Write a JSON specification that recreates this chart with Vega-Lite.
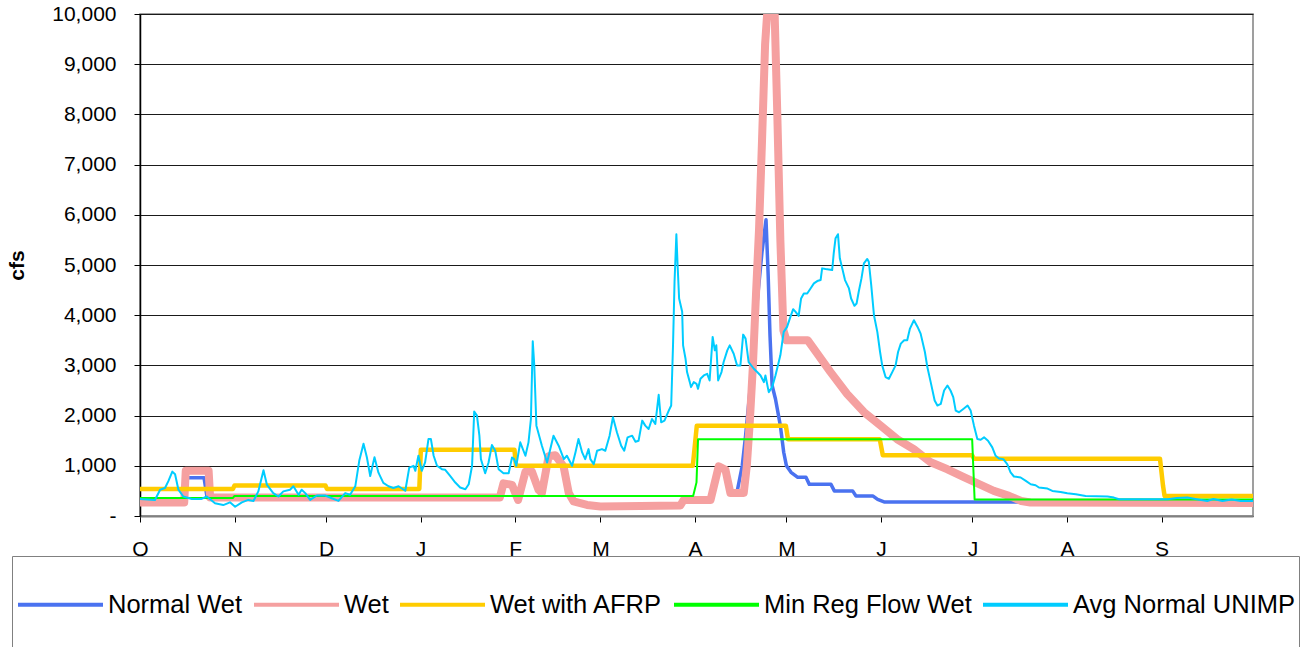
{
  "$schema": "https://vega.github.io/schema/vega-lite/v6.json",
  "width": 1113,
  "height": 502,
  "autosize": "none",
  "padding": {"left": 140, "top": 14, "right": 47, "bottom": 131},
  "background": "white",
  "config": {
    "font": "Liberation Sans",
    "view": {"stroke": "#808080", "strokeWidth": 1.5},
    "line": {"strokeJoin": "round", "strokeCap": "butt"}
  },
  "datasets": {
    "normalWet": [
      {"day":0,"cfs":270},{"day":14.5,"cfs":270},{"day":15,"cfs":760},{"day":21,"cfs":760},{"day":22,"cfs":370},{"day":118,"cfs":370},{"day":119.2,"cfs":650},{"day":122,"cfs":620},{"day":124,"cfs":320},{"day":126.4,"cfs":880},{"day":128.5,"cfs":890},{"day":130.7,"cfs":520},{"day":131.8,"cfs":460},{"day":134,"cfs":1190},{"day":136.2,"cfs":1210},{"day":138.9,"cfs":990},{"day":140.6,"cfs":460},{"day":142.2,"cfs":290},{"day":146.6,"cfs":220},{"day":151,"cfs":190},{"day":177.2,"cfs":210},{"day":178.3,"cfs":320},{"day":187.1,"cfs":320},{"day":189.8,"cfs":990},{"day":192,"cfs":920},{"day":193.6,"cfs":460},{"day":195.8,"cfs":480},{"day":197.5,"cfs":1000},{"day":198.6,"cfs":1600},{"day":200.2,"cfs":2600},{"day":201.3,"cfs":3400},{"day":202.4,"cfs":4270},{"day":204,"cfs":5270},{"day":205.3,"cfs":5900},{"day":206,"cfs":4800},{"day":206.6,"cfs":3600},{"day":207.3,"cfs":2600},{"day":208.4,"cfs":2330},{"day":210,"cfs":1800},{"day":211.1,"cfs":1270},{"day":212,"cfs":1000},{"day":213.5,"cfs":870},{"day":215.7,"cfs":770},{"day":218.4,"cfs":770},{"day":219.5,"cfs":630},{"day":226.6,"cfs":630},{"day":227.7,"cfs":500},{"day":233.7,"cfs":500},{"day":234.8,"cfs":400},{"day":240.3,"cfs":400},{"day":241.9,"cfs":330},{"day":244,"cfs":280},{"day":365,"cfs":280}
    ],
    "wet": [
      {"day":0,"cfs":270},{"day":14.5,"cfs":270},{"day":15,"cfs":900},{"day":22.5,"cfs":900},{"day":23,"cfs":370},{"day":118,"cfs":370},{"day":119.2,"cfs":650},{"day":122,"cfs":620},{"day":124,"cfs":320},{"day":126.4,"cfs":880},{"day":128.5,"cfs":890},{"day":130.7,"cfs":520},{"day":131.8,"cfs":460},{"day":134,"cfs":1190},{"day":136.2,"cfs":1210},{"day":138.9,"cfs":990},{"day":140.6,"cfs":460},{"day":142.2,"cfs":290},{"day":146.6,"cfs":220},{"day":151,"cfs":190},{"day":177.2,"cfs":210},{"day":178.3,"cfs":320},{"day":187.1,"cfs":320},{"day":189.8,"cfs":990},{"day":192,"cfs":920},{"day":193.6,"cfs":460},{"day":198,"cfs":460},{"day":199,"cfs":1000},{"day":200,"cfs":1900},{"day":201,"cfs":3000},{"day":202,"cfs":4400},{"day":203,"cfs":5700},{"day":204,"cfs":7500},{"day":205,"cfs":9400},{"day":206,"cfs":10300},{"day":208,"cfs":10300},{"day":209,"cfs":8000},{"day":210,"cfs":5500},{"day":211,"cfs":3700},{"day":212,"cfs":3500},{"day":219,"cfs":3500},{"day":221,"cfs":3330},{"day":226.4,"cfs":2870},{"day":231.9,"cfs":2430},{"day":237.4,"cfs":2070},{"day":242.9,"cfs":1800},{"day":248.3,"cfs":1530},{"day":253.8,"cfs":1330},{"day":259.3,"cfs":1070},{"day":264.8,"cfs":930},{"day":270,"cfs":780},{"day":275,"cfs":640},{"day":280,"cfs":500},{"day":285,"cfs":400},{"day":289,"cfs":300},{"day":292,"cfs":270},{"day":365,"cfs":260}
    ],
    "afrp": [
      {"day":0,"cfs":540},{"day":30.5,"cfs":540},{"day":31,"cfs":610},{"day":60.8,"cfs":610},{"day":61.3,"cfs":540},{"day":91.6,"cfs":540},{"day":92.1,"cfs":1320},{"day":122.8,"cfs":1320},{"day":123.3,"cfs":1000},{"day":181.3,"cfs":1000},{"day":182.6,"cfs":1800},{"day":211.8,"cfs":1800},{"day":212.5,"cfs":1530},{"day":242.6,"cfs":1530},{"day":243.6,"cfs":1210},{"day":272.9,"cfs":1210},{"day":273.5,"cfs":1140},{"day":334.5,"cfs":1140},{"day":335.5,"cfs":600},{"day":336,"cfs":400},{"day":365,"cfs":400}
    ],
    "minReg": [
      {"day":0,"cfs":360},{"day":30.5,"cfs":360},{"day":31,"cfs":400},{"day":181.4,"cfs":400},{"day":182.5,"cfs":670},{"day":183,"cfs":1530},{"day":272.9,"cfs":1530},{"day":273.7,"cfs":330},{"day":365,"cfs":330}
    ],
    "unimp": [
      {"day":0,"cfs":340},{"day":4.9,"cfs":320},{"day":6.6,"cfs":524},{"day":8.2,"cfs":558},{"day":9.3,"cfs":694},{"day":10.6,"cfs":884},{"day":11.5,"cfs":830},{"day":12.6,"cfs":524},{"day":14.2,"cfs":388},{"day":17,"cfs":340},{"day":20.2,"cfs":340},{"day":21.9,"cfs":388},{"day":24.6,"cfs":252},{"day":27.3,"cfs":218},{"day":29.5,"cfs":272},{"day":31.2,"cfs":184},{"day":33.4,"cfs":272},{"day":35.5,"cfs":320},{"day":37.2,"cfs":300},{"day":38.8,"cfs":490},{"day":40.5,"cfs":911},{"day":41.6,"cfs":626},{"day":43.7,"cfs":456},{"day":45.4,"cfs":388},{"day":47,"cfs":490},{"day":49.2,"cfs":524},{"day":50.3,"cfs":592},{"day":52,"cfs":422},{"day":53,"cfs":524},{"day":54.2,"cfs":456},{"day":55.8,"cfs":320},{"day":58,"cfs":408},{"day":60.7,"cfs":408},{"day":62.9,"cfs":354},{"day":65.1,"cfs":300},{"day":67.3,"cfs":456},{"day":68.9,"cfs":422},{"day":70.6,"cfs":592},{"day":71.9,"cfs":1100},{"day":73.3,"cfs":1440},{"day":74.4,"cfs":1170},{"day":75.5,"cfs":796},{"day":76.9,"cfs":1170},{"day":78.2,"cfs":864},{"day":79.8,"cfs":660},{"day":81.5,"cfs":592},{"day":83.1,"cfs":558},{"day":84.8,"cfs":592},{"day":87,"cfs":503},{"day":88.3,"cfs":965},{"day":89.7,"cfs":1000},{"day":90.3,"cfs":900},{"day":91.3,"cfs":1200},{"day":92.4,"cfs":900},{"day":93.5,"cfs":1067},{"day":94.6,"cfs":1533},{"day":95.4,"cfs":1533},{"day":96.3,"cfs":1200},{"day":97.4,"cfs":1000},{"day":99,"cfs":933},{"day":100.1,"cfs":920},{"day":101.7,"cfs":800},{"day":103.4,"cfs":667},{"day":105,"cfs":567},{"day":106.7,"cfs":533},{"day":107.8,"cfs":633},{"day":108.9,"cfs":1000},{"day":109.6,"cfs":2080},{"day":110.5,"cfs":2000},{"day":111.3,"cfs":1600},{"day":111.8,"cfs":1133},{"day":113.2,"cfs":853},{"day":114.3,"cfs":1067},{"day":115.4,"cfs":1413},{"day":116.5,"cfs":1300},{"day":117.6,"cfs":933},{"day":119.2,"cfs":853},{"day":120.9,"cfs":853},{"day":122,"cfs":1167},{"day":122.7,"cfs":1133},{"day":123.4,"cfs":1000},{"day":124.7,"cfs":1467},{"day":126.4,"cfs":1200},{"day":127.4,"cfs":1467},{"day":128.2,"cfs":1933},{"day":128.8,"cfs":3480},{"day":129.3,"cfs":3000},{"day":130,"cfs":1800},{"day":131.8,"cfs":1400},{"day":133.5,"cfs":1067},{"day":135.6,"cfs":1600},{"day":137.3,"cfs":1400},{"day":139,"cfs":1133},{"day":140,"cfs":1200},{"day":141.7,"cfs":1000},{"day":142.8,"cfs":1267},{"day":143.8,"cfs":1533},{"day":145,"cfs":1267},{"day":146,"cfs":1133},{"day":147.1,"cfs":1333},{"day":147.7,"cfs":1133},{"day":148.8,"cfs":1033},{"day":149.9,"cfs":1300},{"day":151.5,"cfs":1333},{"day":152.6,"cfs":1300},{"day":154,"cfs":1600},{"day":155.1,"cfs":1967},{"day":156.4,"cfs":1667},{"day":157.8,"cfs":1400},{"day":158.8,"cfs":1300},{"day":159.9,"cfs":1567},{"day":161.4,"cfs":1600},{"day":162.5,"cfs":1480},{"day":163.5,"cfs":1500},{"day":164.7,"cfs":1900},{"day":165.7,"cfs":1800},{"day":166.8,"cfs":1733},{"day":167.9,"cfs":1933},{"day":169,"cfs":1833},{"day":170.1,"cfs":2413},{"day":170.9,"cfs":1867},{"day":172,"cfs":1900},{"day":173.4,"cfs":2100},{"day":174.2,"cfs":2200},{"day":174.8,"cfs":3400},{"day":175.3,"cfs":4667},{"day":175.9,"cfs":5613},{"day":176.3,"cfs":5000},{"day":176.8,"cfs":4333},{"day":177.8,"cfs":4067},{"day":178.1,"cfs":3400},{"day":178.9,"cfs":3133},{"day":179.4,"cfs":2867},{"day":180.3,"cfs":2667},{"day":180.7,"cfs":2567},{"day":181.6,"cfs":2667},{"day":182.5,"cfs":2633},{"day":183,"cfs":2533},{"day":183.8,"cfs":2733},{"day":184.9,"cfs":2800},{"day":186,"cfs":2833},{"day":186.8,"cfs":2700},{"day":187.3,"cfs":3133},{"day":187.8,"cfs":3567},{"day":188.5,"cfs":3300},{"day":189,"cfs":3400},{"day":189.6,"cfs":2700},{"day":190.7,"cfs":2867},{"day":191.4,"cfs":3067},{"day":192.6,"cfs":3300},{"day":193.4,"cfs":3400},{"day":194.7,"cfs":3233},{"day":195.8,"cfs":3000},{"day":196.9,"cfs":3000},{"day":197.8,"cfs":3613},{"day":198.6,"cfs":3533},{"day":199.6,"cfs":3067},{"day":201.3,"cfs":2933},{"day":202.4,"cfs":2867},{"day":203.5,"cfs":2800},{"day":204.6,"cfs":2667},{"day":205.1,"cfs":2800},{"day":206.2,"cfs":2467},{"day":207.3,"cfs":2567},{"day":208.4,"cfs":2800},{"day":210,"cfs":3200},{"day":211.1,"cfs":3667},{"day":212.2,"cfs":3767},{"day":213.1,"cfs":3933},{"day":214.2,"cfs":4120},{"day":215,"cfs":4067},{"day":216,"cfs":3987},{"day":216.8,"cfs":4333},{"day":217.7,"cfs":4433},{"day":218.8,"cfs":4433},{"day":219.9,"cfs":4533},{"day":221,"cfs":4633},{"day":222.1,"cfs":4680},{"day":223.2,"cfs":4700},{"day":223.7,"cfs":4933},{"day":224.8,"cfs":4920},{"day":227,"cfs":4900},{"day":227.5,"cfs":5233},{"day":228.1,"cfs":5533},{"day":228.9,"cfs":5613},{"day":229.5,"cfs":5133},{"day":230.3,"cfs":4933},{"day":231.2,"cfs":4700},{"day":232.5,"cfs":4533},{"day":233.2,"cfs":4333},{"day":234.3,"cfs":4187},{"day":235,"cfs":4233},{"day":235.7,"cfs":4467},{"day":236.6,"cfs":4733},{"day":237.4,"cfs":5033},{"day":238.5,"cfs":5120},{"day":239,"cfs":5067},{"day":239.8,"cfs":4600},{"day":240.7,"cfs":4000},{"day":241.8,"cfs":3667},{"day":242.7,"cfs":3267},{"day":243.4,"cfs":3000},{"day":244.5,"cfs":2767},{"day":245.6,"cfs":2733},{"day":246.7,"cfs":2867},{"day":247.8,"cfs":3000},{"day":248.6,"cfs":3267},{"day":249.5,"cfs":3433},{"day":250.6,"cfs":3500},{"day":251.6,"cfs":3500},{"day":252.5,"cfs":3733},{"day":253.8,"cfs":3900},{"day":255,"cfs":3767},{"day":256,"cfs":3633},{"day":257.4,"cfs":3267},{"day":258.2,"cfs":2967},{"day":259.3,"cfs":2667},{"day":260.6,"cfs":2300},{"day":261.5,"cfs":2200},{"day":262.6,"cfs":2233},{"day":263.7,"cfs":2500},{"day":264.8,"cfs":2600},{"day":265.8,"cfs":2500},{"day":266.7,"cfs":2367},{"day":267.5,"cfs":2100},{"day":268.6,"cfs":2067},{"day":270,"cfs":2133},{"day":271.4,"cfs":2200},{"day":272.4,"cfs":2100},{"day":273.5,"cfs":1800},{"day":274.6,"cfs":1533},{"day":275.7,"cfs":1520},{"day":276.8,"cfs":1567},{"day":278.1,"cfs":1500},{"day":279.5,"cfs":1367},{"day":280.6,"cfs":1200},{"day":281.7,"cfs":1147},{"day":283.1,"cfs":1133},{"day":284.4,"cfs":1033},{"day":285.5,"cfs":867},{"day":286.6,"cfs":787},{"day":288.8,"cfs":767},{"day":290.5,"cfs":700},{"day":292.1,"cfs":633},{"day":293.7,"cfs":613},{"day":294.8,"cfs":567},{"day":297.6,"cfs":547},{"day":299.2,"cfs":500},{"day":301.9,"cfs":480},{"day":304.1,"cfs":453},{"day":306.9,"cfs":433},{"day":310.1,"cfs":400},{"day":317.3,"cfs":387},{"day":319.4,"cfs":367},{"day":321.1,"cfs":333},{"day":337,"cfs":333},{"day":340,"cfs":360},{"day":343.5,"cfs":367},{"day":347,"cfs":330},{"day":350,"cfs":300},{"day":352,"cfs":340},{"day":355,"cfs":300},{"day":358,"cfs":330},{"day":361,"cfs":300},{"day":365,"cfs":300}
    ]
  },
  "encoding": {
    "x": {
      "field": "day",
      "type": "quantitative",
      "scale": {"domain": [0, 365], "nice": false, "zero": false},
      "axis": {
        "title": null,
        "grid": false,
        "values": [0, 31, 61, 92, 123, 151, 182, 212, 243, 273, 304, 335],
        "labelExpr": "['O','N','D','J','F','M','A','M','J','J','A','S'][indexof([0,31,61,92,123,151,182,212,243,273,304,335], datum.value)]",
        "labelFontSize": 21,
        "labelColor": "#000000",
        "labelPadding": 16,
        "labelFlush": false,
        "labelOverlap": false,
        "tickSize": 6,
        "tickColor": "#000000",
        "domainColor": "#808080",
        "domainWidth": 2
      }
    },
    "y": {
      "field": "cfs",
      "type": "quantitative",
      "scale": {"domain": [0, 10000], "nice": false},
      "axis": {
        "title": "cfs",
        "titleFontSize": 21,
        "titleFontWeight": "bold",
        "titleColor": "#000000",
        "titlePadding": 24,
        "values": [0, 1000, 2000, 3000, 4000, 5000, 6000, 7000, 8000, 9000, 10000],
        "labelExpr": "datum.value === 0 ? '-\u00a0\u00a0\u00a0\u00a0' : format(datum.value, ',')",
        "labelFontSize": 21,
        "labelColor": "#000000",
        "labelPadding": 18,
        "labelFlush": false,
        "labelOverlap": false,
        "tickSize": 6,
        "tickColor": "#000000",
        "domainColor": "#000000",
        "domainWidth": 1.5,
        "grid": true,
        "gridColor": "#1a1a1a",
        "gridWidth": 1
      }
    }
  },
  "layer": [
    {
      "data": {"name": "normalWet"},
      "mark": {"type": "line", "strokeWidth": 3.5, "clip": true},
      "encoding": {"color": {"datum": "Normal Wet", "type": "nominal"}}
    },
    {
      "data": {"name": "wet"},
      "mark": {"type": "line", "strokeWidth": 8, "clip": true},
      "encoding": {"color": {"datum": "Wet", "type": "nominal"}}
    },
    {
      "data": {"name": "afrp"},
      "mark": {"type": "line", "strokeWidth": 4.5, "clip": true},
      "encoding": {"color": {"datum": "Wet with AFRP", "type": "nominal"}}
    },
    {
      "data": {"name": "minReg"},
      "mark": {"type": "line", "strokeWidth": 2, "clip": true},
      "encoding": {"color": {"datum": "Min Reg Flow Wet", "type": "nominal"}}
    },
    {
      "data": {"name": "unimp"},
      "mark": {"type": "line", "strokeWidth": 2, "clip": true},
      "encoding": {
        "color": {
          "datum": "Avg Normal UNIMP",
          "type": "nominal",
          "scale": {
            "domain": ["Normal Wet", "Wet", "Wet with AFRP", "Min Reg Flow Wet", "Avg Normal UNIMP"],
            "range": ["#4A72F0", "#F5A0A0", "#FFCC00", "#00FF00", "#00CCFF"]
          },
          "legend": {
            "title": null,
            "orient": "none",
            "legendX": -128,
            "legendY": 542,
            "direction": "horizontal",
            "symbolType": "stroke",
            "symbolSize": 7225,
            "symbolStrokeWidth": 4,
            "labelFontSize": 25.5,
            "labelColor": "#000000",
            "labelLimit": 0,
            "labelOffset": 3,
            "columnPadding": 9,
            "padding": 4,
            "strokeColor": "#808080",
            "fillColor": "#FFFFFF",
            "labelExpr": "[datum.label, '']",
            "encode": {
              "symbols": {"update": {"strokeWidth": {"signal": "datum.value === 'Wet' ? 8 : (datum.value === 'Min Reg Flow Wet' || datum.value === 'Avg Normal UNIMP') ? 2.5 : 4.5"}}},
              "labels": {"update": {"lineHeight": {"value": 32}}}
            }
          }
        }
      }
    }
  ]
}
